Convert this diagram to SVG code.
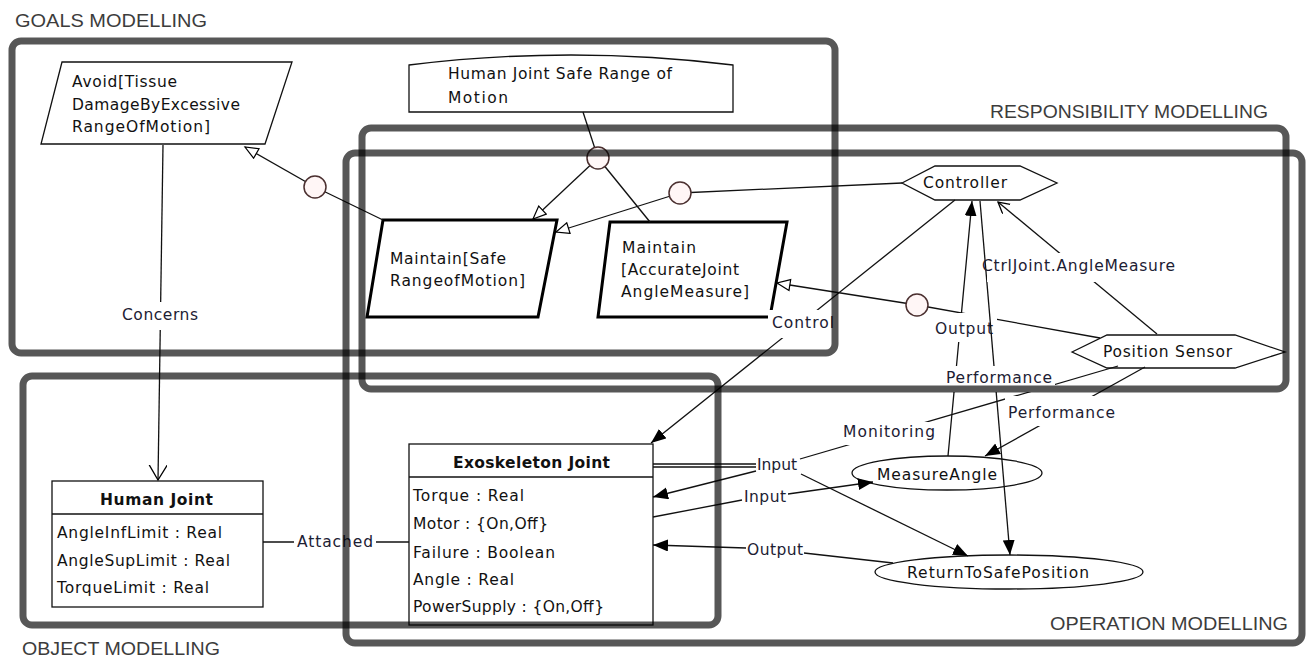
<svg xmlns="http://www.w3.org/2000/svg" width="1316" height="659" viewBox="0 0 1316 659">
<defs>
<style>
.t{font-family:"DejaVu Sans",Verdana,sans-serif;font-size:15.5px;fill:#111}
.b{font-weight:bold}
.lb{font-family:"DejaVu Sans",Verdana,sans-serif;font-size:15.5px;fill:#1c2033}
.ft{font-family:"Liberation Sans",Arial,sans-serif;font-size:19px;fill:#3c3c3c}
.n{fill:#fff;stroke:#111;stroke-width:1.3}
.thick{fill:#fff;stroke:#000;stroke-width:3}
.c{fill:none;stroke:#111;stroke-width:1.3}
.bg{fill:#fff;stroke:none}
.j{fill:#fff6f6;stroke:#4b3030;stroke-width:1.5}
.fr{fill:none;stroke:#000;stroke-opacity:0.66;stroke-width:7}
.fa{marker-end:url(#fa)}
.ha{marker-end:url(#ha)}
</style>
<marker id="fa" markerUnits="userSpaceOnUse" markerWidth="17" markerHeight="14" refX="15" refY="6" orient="auto"><path d="M0,0 L15,6 L0,12 z" fill="#000"/></marker>
<marker id="ha" markerUnits="userSpaceOnUse" markerWidth="17" markerHeight="14" refX="14" refY="6.5" orient="auto"><path d="M1,1 L14,6.5 L1,12 z" fill="#fff" stroke="#000" stroke-width="1.2"/></marker>
<marker id="oa" markerUnits="userSpaceOnUse" markerWidth="18" markerHeight="20" refX="15" refY="9" orient="auto"><path d="M0,0 L15,9 L0,18" fill="none" stroke="#000" stroke-width="1.3"/></marker>
<marker id="os" markerUnits="userSpaceOnUse" markerWidth="14" markerHeight="14" refX="11" refY="6" orient="auto"><path d="M0,0 L11,6 L0,12" fill="none" stroke="#000" stroke-width="1.3"/></marker>
</defs>
<rect width="1316" height="659" fill="#fff"/>

<g id="avoid">
<polygon class="n" points="62,62 292,62 265,144 41,144"/>
<text class="t" x="72" y="87" textLength="105">Avoid[Tissue</text>
<text class="t" x="72" y="110" textLength="168">DamageByExcessive</text>
<text class="t" x="72" y="132" textLength="138">RangeOfMotion]</text>
</g>
<g id="domain-property">
<path class="n" d="M409,65 Q571,45 733,65 L733,112 L409,112 Z"/>
<text class="t" x="448" y="79" textLength="224">Human Joint Safe Range of</text>
<text class="t" x="448" y="103" textLength="60">Motion</text>
</g>
<g id="maintain-safe">
<polygon class="thick" points="383,220 557,220 538,317 367,317"/>
<text class="t" x="390" y="264" textLength="116">Maintain[Safe</text>
<text class="t" x="390" y="286" textLength="135">RangeofMotion]</text>
</g>
<g id="maintain-accurate">
<polygon class="thick" points="610,222 787,222 770,317 598,317"/>
<text class="t" x="622" y="253" textLength="74">Maintain</text>
<text class="t" x="621" y="275" textLength="118">[AccurateJoint</text>
<text class="t" x="621" y="297" textLength="128">AngleMeasure]</text>
</g>
<g id="controller">
<polygon class="n" points="902,183 935,166 1020,166 1057,183 1020,200 935,200"/>
<text class="t" x="923" y="188" textLength="84">Controller</text>
</g>
<g id="position-sensor">
<polygon class="n" points="1072,352 1107,335 1235,335 1285,352 1235,368 1107,368"/>
<text class="t" x="1103" y="357" textLength="129">Position Sensor</text>
</g>
<g id="human-joint">
<rect class="n" x="52" y="481" width="211" height="126"/>
<line class="c" x1="52" y1="514" x2="263" y2="514"/>
<text class="t b" x="100" y="505" textLength="113">Human Joint</text>
<text class="t" x="57" y="538" textLength="165">AngleInfLimit : Real</text>
<text class="t" x="57" y="566" textLength="173">AngleSupLimit : Real</text>
<text class="t" x="57" y="593" textLength="152">TorqueLimit : Real</text>
</g>
<g id="exoskeleton-joint">
<rect class="n" x="409" y="444" width="244" height="181"/>
<line class="c" x1="409" y1="477" x2="653" y2="477"/>
<text class="t b" x="453" y="468" textLength="157">Exoskeleton Joint</text>
<text class="t" x="413" y="501" textLength="111">Torque : Real</text>
<text class="t" x="413" y="529" textLength="135">Motor : {On,Off}</text>
<text class="t" x="413" y="558" textLength="142">Failure : Boolean</text>
<text class="t" x="413" y="585" textLength="101">Angle : Real</text>
<text class="t" x="413" y="612" textLength="191">PowerSupply : {On,Off}</text>
</g>
<g id="measure-angle">
<ellipse class="n" cx="947" cy="473" rx="95" ry="17"/>
<text class="t" x="877" y="480" textLength="120">MeasureAngle</text>
</g>
<g id="return-to-safe-position">
<ellipse class="n" cx="1009" cy="572" rx="134" ry="17"/>
<text class="t" x="907" y="578" textLength="182">ReturnToSafePosition</text>
</g>

<g id="connectors">
<line class="c" x1="163" y1="145" x2="158" y2="480" marker-end="url(#oa)"/>
<rect class="bg" x="119" y="302" width="82" height="28"/>
<text class="lb" x="122" y="320" textLength="76">Concerns</text>
<line class="c" x1="263" y1="542" x2="409" y2="542"/>
<rect class="bg" x="294" y="532" width="82" height="20"/>
<text class="lb" x="297" y="547" textLength="76">Attached</text>
<line class="c" x1="383" y1="220" x2="315" y2="187"/>
<line class="c ha" x1="315" y1="187" x2="245" y2="147"/>
<line class="c" x1="583" y1="112" x2="598" y2="158"/>
<line class="c" x1="598" y1="158" x2="650" y2="222"/>
<line class="c ha" x1="598" y1="158" x2="533" y2="219"/>
<line class="c" x1="680" y1="193" x2="902" y2="183"/>
<line class="c ha" x1="680" y1="193" x2="556" y2="232"/>
<line class="c" x1="917" y1="305" x2="1100" y2="338"/>
<line class="c ha" x1="917" y1="305" x2="777" y2="283"/>
<line class="c fa" x1="955" y1="200" x2="651" y2="443"/>
<rect class="bg" x="768" y="310" width="68" height="28"/>
<text class="lb" x="772" y="328" textLength="62">Control</text>
<line class="c fa" x1="948" y1="456" x2="972" y2="201"/>
<rect class="bg" x="932" y="313" width="65" height="29"/>
<text class="lb" x="935" y="334" textLength="58">Output</text>
<line class="c fa" x1="980" y1="201" x2="1010" y2="555"/>
<line class="c" x1="1118" y1="366" x2="800" y2="459"/>
<rect class="bg" x="943" y="366" width="112" height="26"/>
<text class="lb" x="946" y="383" textLength="106">Performance</text>
<rect class="bg" x="838" y="422" width="102" height="23"/>
<text class="lb" x="843" y="437" textLength="92">Monitoring</text>
<line class="c fa" x1="1145" y1="367" x2="985" y2="456"/>
<rect class="bg" x="1005" y="396" width="113" height="30"/>
<text class="lb" x="1008" y="418" textLength="107">Performance</text>
<line class="c" x1="1157" y1="334" x2="998" y2="202" marker-end="url(#os)"/>
<rect class="bg" x="987" y="253" width="191" height="29"/>
<text class="lb" x="982" y="271" textLength="193">CtrlJoint.AngleMeasure</text>
<line class="c" x1="653" y1="464" x2="756" y2="464"/>
<line class="c" x1="653" y1="467" x2="756" y2="467"/>
<text class="lb" x="757" y="470" textLength="40">Input</text>
<line class="c fa" x1="756" y1="471" x2="653" y2="497"/>
<line class="c fa" x1="801" y1="474" x2="968" y2="556"/>
<line class="c" x1="653" y1="517" x2="742" y2="500"/>
<text class="lb" x="744" y="502" textLength="42">Input</text>
<line class="c fa" x1="788" y1="494" x2="873" y2="482"/>
<line class="c" x1="893" y1="563" x2="804" y2="553"/>
<text class="lb" x="747" y="555" textLength="56">Output</text>
<line class="c fa" x1="746" y1="548" x2="653" y2="545"/>
<circle class="j" cx="315" cy="187" r="11"/>
<circle class="j" cx="598" cy="158" r="11"/>
<circle class="j" cx="680" cy="193" r="11"/>
<circle class="j" cx="917" cy="305" r="11"/>
</g>

<g id="frames">
<rect id="goals-frame" class="fr" x="12" y="41" width="823" height="312" rx="9"/>
<rect id="responsibility-frame" class="fr" x="362" y="128" width="924" height="261" rx="9"/>
<rect id="operation-frame" class="fr" x="346" y="153" width="956" height="490" rx="9"/>
<rect id="object-frame" class="fr" x="23" y="376" width="695" height="249" rx="9"/>
<text class="ft" x="15" y="27" textLength="192" lengthAdjust="spacingAndGlyphs">GOALS MODELLING</text>
<text class="ft" x="990" y="118" textLength="278" lengthAdjust="spacingAndGlyphs">RESPONSIBILITY MODELLING</text>
<text class="ft" x="22" y="655" textLength="198" lengthAdjust="spacingAndGlyphs">OBJECT MODELLING</text>
<text class="ft" x="1050" y="630" textLength="238" lengthAdjust="spacingAndGlyphs">OPERATION MODELLING</text>
</g>
</svg>
